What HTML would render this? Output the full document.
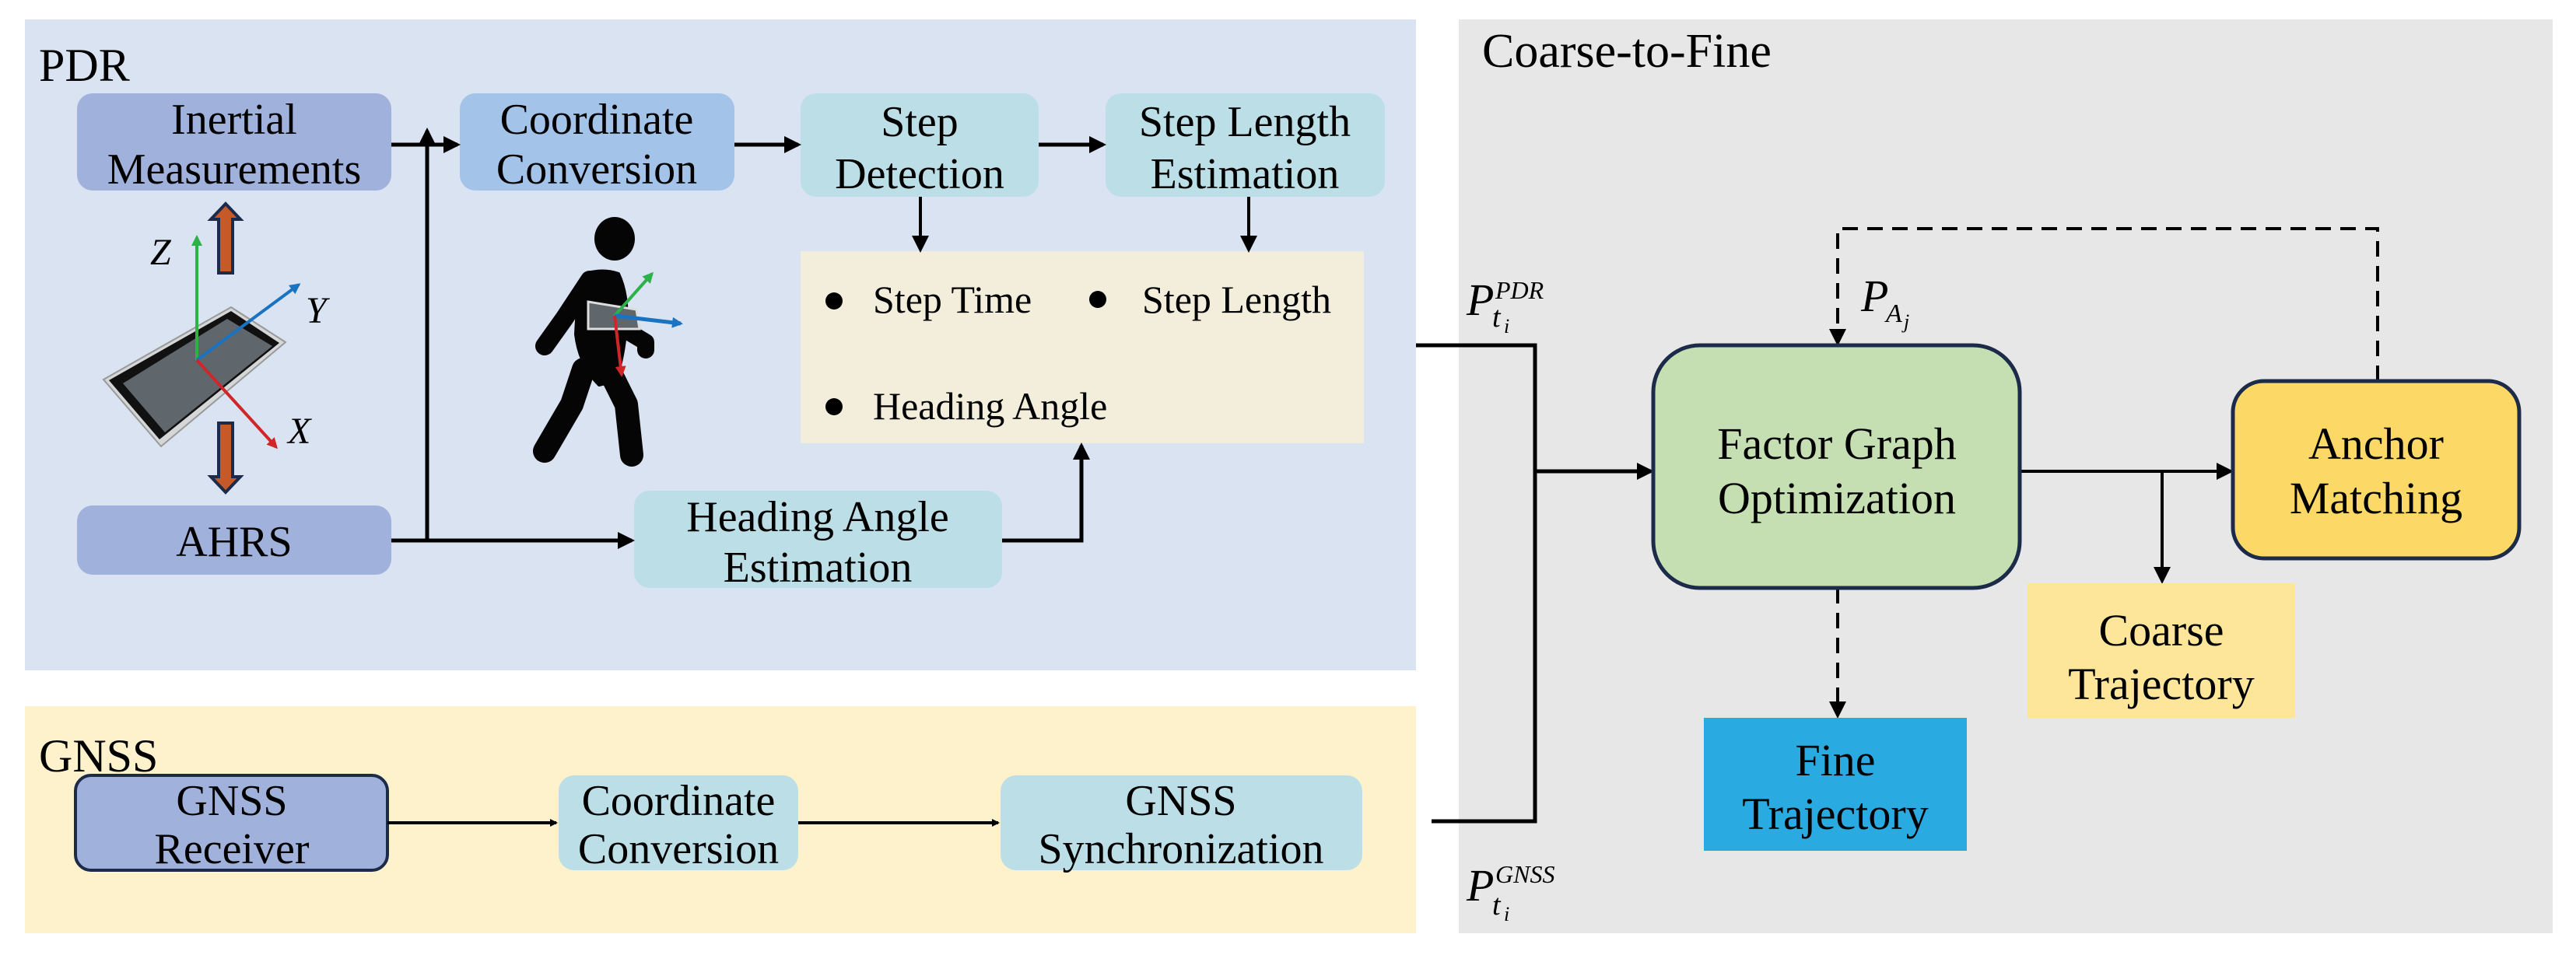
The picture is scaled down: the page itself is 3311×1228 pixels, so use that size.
<!DOCTYPE html>
<html><head><meta charset="utf-8"><style>
html,body{margin:0;padding:0;background:#fff}
svg{display:block}
svg text{font-family:"Liberation Serif","Tinos","Times New Roman","Noto Serif CJK SC","DejaVu Serif",serif;fill:#000}
</style></head><body>
<svg width="3311" height="1228" viewBox="0 0 3311 1228" xmlns="http://www.w3.org/2000/svg" font-family="Liberation Serif, serif">
<defs>
<marker id="ah" markerWidth="10" markerHeight="10" refX="8" refY="5" orient="auto" markerUnits="userSpaceOnUse" viewBox="0 0 10 10"><path d="M0,0 L10,5 L0,10 z" fill="#000"/></marker>
<marker id="ab" markerWidth="22" markerHeight="22" refX="18" refY="11" orient="auto" markerUnits="userSpaceOnUse" viewBox="0 0 22 22"><path d="M0,0 L22,11 L0,22 z" fill="#000"/></marker>
<marker id="mg" markerWidth="14" markerHeight="14" refX="11" refY="7" orient="auto" markerUnits="userSpaceOnUse"><path d="M0,0 L14,7 L0,14 z" fill="#2db24a"/></marker>
<marker id="mb" markerWidth="14" markerHeight="14" refX="11" refY="7" orient="auto" markerUnits="userSpaceOnUse"><path d="M0,0 L14,7 L0,14 z" fill="#1a73c0"/></marker>
<marker id="mr" markerWidth="14" markerHeight="14" refX="11" refY="7" orient="auto" markerUnits="userSpaceOnUse"><path d="M0,0 L14,7 L0,14 z" fill="#d0262a"/></marker>
</defs>
<rect x="32" y="25" width="1788" height="837" fill="#dae3f1"/>
<rect x="32" y="908" width="1788" height="292" fill="#fdf2cc"/>
<rect x="1875" y="25" width="1406" height="1175" fill="#e7e7e7"/>
<text x="50" y="104" font-size="60">PDR</text>
<text x="50" y="992" font-size="60">GNSS</text>
<text x="1905" y="86" font-size="62">Coarse-to-Fine</text>

<g font-size="56" text-anchor="middle">
<rect x="99" y="120" width="404" height="125" rx="20" fill="#a0b2dc"/>
<text x="301" y="172">Inertial</text><text x="301" y="236">Measurements</text>
<rect x="591" y="120" width="353" height="125" rx="20" fill="#a4c3e8"/>
<text x="767" y="172">Coordinate</text><text x="767" y="236">Conversion</text>
<rect x="1029" y="120" width="306" height="133" rx="20" fill="#bcdee6"/>
<text x="1182" y="175">Step</text><text x="1182" y="242">Detection</text>
<rect x="1421" y="120" width="359" height="133" rx="20" fill="#bcdee6"/>
<text x="1600" y="175">Step Length</text><text x="1600" y="242">Estimation</text>
<rect x="99" y="650" width="404" height="89" rx="20" fill="#a0b2dc"/>
<text x="301" y="715">AHRS</text>
<rect x="815" y="631" width="473" height="125" rx="20" fill="#bcdee6"/>
<text x="1051" y="683">Heading Angle</text><text x="1051" y="748">Estimation</text>
</g>
<rect x="1029" y="323" width="724" height="247" fill="#f3eedc"/>
<g font-size="50">
<circle cx="1072" cy="387" r="11"/><text x="1122" y="402">Step Time</text>
<circle cx="1411" cy="385" r="11"/><text x="1468" y="402">Step Length</text>
<circle cx="1072" cy="523" r="11"/><text x="1122" y="539">Heading Angle</text>
</g>

<g stroke="#000" stroke-width="5" fill="none">
<line x1="503" y1="186" x2="588" y2="186" marker-end="url(#ab)"/>
<line x1="549" y1="697" x2="549" y2="168" marker-end="url(#ab)"/>
<line x1="503" y1="695" x2="812" y2="695" marker-end="url(#ab)"/>
<line x1="944" y1="186" x2="1026" y2="186" marker-end="url(#ab)"/>
<line x1="1335" y1="186" x2="1418" y2="186" marker-end="url(#ab)"/>
<line x1="1183" y1="253" x2="1183" y2="321" stroke-width="4" marker-end="url(#ab)"/>
<line x1="1605" y1="253" x2="1605" y2="321" stroke-width="4" marker-end="url(#ab)"/>
<polyline points="1288,695 1390,695 1390,573" marker-end="url(#ab)"/>
</g>

<polygon points="297,395 367,440 207,574 133,488" fill="#d4d6d8" stroke="#999" stroke-width="2"/>
<polygon points="297,400 359,441 205,565 140,489" fill="#111"/>
<polygon points="292,410 350,445 212,556 158,493" fill="#5f676d"/>
<line x1="253" y1="463" x2="253" y2="305" stroke="#2db24a" stroke-width="4" marker-end="url(#mg)"/>
<line x1="253" y1="463" x2="384" y2="366" stroke="#1a73c0" stroke-width="4" marker-end="url(#mb)"/>
<line x1="253" y1="463" x2="355" y2="575" stroke="#d0262a" stroke-width="4" marker-end="url(#mr)"/>
<polygon points="290,262 271,282 281,282 281,351 299,351 299,282 309,282" fill="#c55a28" stroke="#1c2b4a" stroke-width="4"/>
<polygon points="290,633 271,613 281,613 281,544 299,544 299,613 309,613" fill="#c55a28" stroke="#1c2b4a" stroke-width="4"/>
<g font-size="48" font-style="italic"><text x="193" y="340">Z</text><text x="393" y="415">Y</text><text x="370" y="570">X</text></g>

<g fill="#050505" stroke="#050505" stroke-linecap="round" stroke-linejoin="round">
<ellipse cx="790" cy="307" rx="26" ry="28" stroke="none"/>
<path d="M752,352 Q775,345 795,352 Q808,380 805,420 Q800,470 790,490 L770,495 Q745,470 740,430 Q742,380 752,352 z" stroke-width="4"/>
<path d="M758,360 L725,410 L700,445" fill="none" stroke-width="24"/>
<path d="M810,428 L830,440 L830,450" fill="none" stroke-width="22"/>
<path d="M750,475 L735,520 L700,580" fill="none" stroke-width="30"/>
<path d="M785,480 L805,520 L812,585" fill="none" stroke-width="30"/>
</g>
<polygon points="756,388 818,398 822,423 756,423" fill="#5f676d" stroke="#ddd" stroke-width="3"/>
<line x1="790" y1="406" x2="838" y2="352" stroke="#2db24a" stroke-width="4" marker-end="url(#mg)"/>
<line x1="790" y1="406" x2="875" y2="416" stroke="#1a73c0" stroke-width="5" marker-end="url(#mb)"/>
<line x1="790" y1="406" x2="799" y2="482" stroke="#d0262a" stroke-width="4" marker-end="url(#mr)"/>

<g font-size="56" text-anchor="middle">
<rect x="97" y="997" width="401" height="122" rx="20" fill="#a0b2dc" stroke="#1c2b4a" stroke-width="4"/>
<text x="298" y="1048">GNSS</text><text x="298" y="1110">Receiver</text>
<rect x="718" y="997" width="308" height="122" rx="20" fill="#bcdee6"/>
<text x="872" y="1048">Coordinate</text><text x="872" y="1110">Conversion</text>
<rect x="1286" y="997" width="465" height="122" rx="20" fill="#bcdee6"/>
<text x="1518" y="1048">GNSS</text><text x="1518" y="1110">Synchronization</text>
</g>
<g stroke="#000" stroke-width="4" fill="none">
<line x1="498" y1="1058" x2="715" y2="1058" marker-end="url(#ah)"/>
<line x1="1026" y1="1058" x2="1283" y2="1058" marker-end="url(#ah)"/>
</g>

<g stroke="#000" stroke-width="5" fill="none">
<polyline points="1820,444 1973,444 1973,1056 1840,1056"/>
<line x1="1973" y1="606" x2="2122" y2="606" marker-end="url(#ab)"/>
<line x1="2596" y1="606" x2="2867" y2="606" stroke-width="4" marker-end="url(#ab)"/>
<line x1="2779" y1="606" x2="2779" y2="747" stroke-width="4" marker-end="url(#ab)"/>
<polyline points="3056,490 3056,294 2362,294 2362,441" stroke-dasharray="20,12" stroke-width="4" marker-end="url(#ab)"/>
<line x1="2362" y1="756" x2="2362" y2="920" stroke-dasharray="20,12" stroke-width="4" marker-end="url(#ab)"/>
</g>
<g font-size="58" text-anchor="middle">
<rect x="2125" y="444" width="471" height="312" rx="60" fill="#c5dfb2" stroke="#1c2b4a" stroke-width="5"/>
<text x="2361" y="590">Factor Graph</text><text x="2361" y="660">Optimization</text>
<rect x="2870" y="490" width="368" height="228" rx="40" fill="#fcd966" stroke="#1c2b4a" stroke-width="5"/>
<text x="3054" y="590">Anchor</text><text x="3054" y="660">Matching</text>
<rect x="2606" y="750" width="344" height="173" fill="#fde699"/>
<text x="2778" y="830">Coarse</text><text x="2778" y="899">Trajectory</text>
<rect x="2190" y="923" width="338" height="171" fill="#29abe2"/>
<text x="2359" y="997">Fine</text><text x="2359" y="1066">Trajectory</text>
</g>
<g font-style="italic">
<text x="1885" y="405" font-size="58">P</text>
<text x="1922" y="384" font-size="32">PDR</text>
<text x="1918" y="420" font-size="38">t</text><text x="1933" y="428" font-size="26">i</text>
<text x="2392" y="400" font-size="58">P</text>
<text x="2424" y="414" font-size="34">A</text><text x="2447" y="422" font-size="26">j</text>
<text x="1885" y="1158" font-size="58">P</text>
<text x="1922" y="1135" font-size="32">GNSS</text>
<text x="1918" y="1176" font-size="38">t</text><text x="1933" y="1184" font-size="26">i</text>
</g>
</svg>
</body></html>
